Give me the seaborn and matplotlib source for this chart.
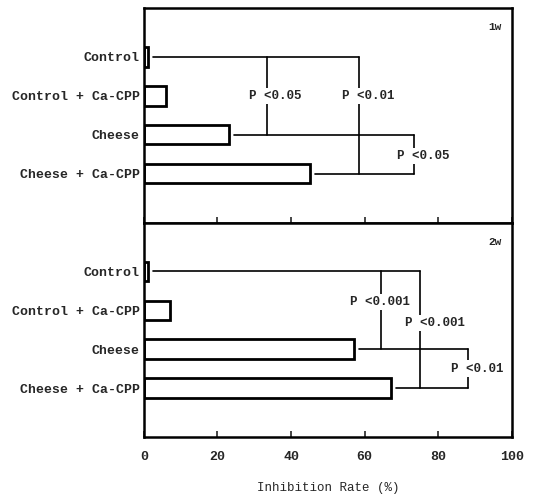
import pandas as pd
import seaborn as sns
import matplotlib.pyplot as plt

groups = ["Control", "Control + Ca-CPP", "Cheese", "Cheese + Ca-CPP"]
rate_1w = [1, 6, 23, 45]
rate_2w = [1, 7, 57, 67]
panel_names = ["1w", "2w"]
x_ticks = [0, 20, 40, 60, 80, 100]

# (group a, group b, x of vertical, label, label x, label y)
brackets_1w = [
    (0, 2, 33.5, "P <0.05", 35.6, 1.0),
    (0, 3, 58.5, "P <0.01", 61.0, 1.0),
    (2, 3, 73.5, "P <0.05", 76.0, 2.55),
]
brackets_2w = [
    (0, 2, 64.5, "P <0.001", 64.2, 0.78),
    (0, 3, 75.0, "P <0.001", 79.2, 1.32),
    (2, 3, 88.0, "P <0.01", 90.5, 2.5),
]

sns.set_theme(style="white")
plt.rcParams["font.family"] = ["Liberation Mono", "DejaVu Sans Mono"]
plt.rcParams["font.weight"] = "bold"

fig, axes = plt.subplots(2, 1, figsize=(5.47, 5.0), sharex=True)
fig.subplots_adjust(left=0.263, right=0.936, top=0.984, bottom=0.126, hspace=0)

for ax, name, rates, brackets in zip(axes, panel_names, [rate_1w, rate_2w], [brackets_1w, brackets_2w]):
    df = pd.DataFrame({"group": groups, "rate": rates})
    sns.barplot(data=df, x="rate", y="group", orient="h", color="white",
                saturation=1, edgecolor="black", linewidth=2, width=0.5, ax=ax)

    # horizontal lines from each bar end to its furthest bracket
    reach = {}
    for a, b, xv, lab, lx, ly in brackets:
        reach[a] = max(reach.get(a, 0), xv)
        reach[b] = max(reach.get(b, 0), xv)
    for i, xr in reach.items():
        ax.plot([rates[i] + 1.5, xr], [i, i], color="black", lw=1.2)
    for a, b, xv, lab, lx, ly in brackets:
        ax.plot([xv, xv], [a, b], color="black", lw=1.2)
        ax.text(lx, ly, lab, ha="center", va="center", fontsize=9,
                bbox=dict(facecolor="white", edgecolor="none", pad=1.5))

    ax.text(0.955, 0.91, name, transform=ax.transAxes, ha="center", va="center",
            fontsize=8, fontweight="bold")
    ax.set_xlim(0, 100)
    ax.set_ylim(3 + 1.26, -1.26)
    ax.set_xticks(x_ticks)
    ax.set_ylabel("")
    ax.set_xlabel("")
    ax.tick_params(axis="x", direction="in", length=4, width=1.2, bottom=True, pad=10, labelsize=9.5)
    ax.tick_params(axis="y", left=False, length=0, pad=3, labelsize=9.5)
    for sp in ax.spines.values():
        sp.set_color("black")
        sp.set_linewidth(1.8)

axes[1].set_xlabel("Inhibition Rate (%)", fontsize=9, labelpad=14)

fig.savefig("out.png", dpi=100)
